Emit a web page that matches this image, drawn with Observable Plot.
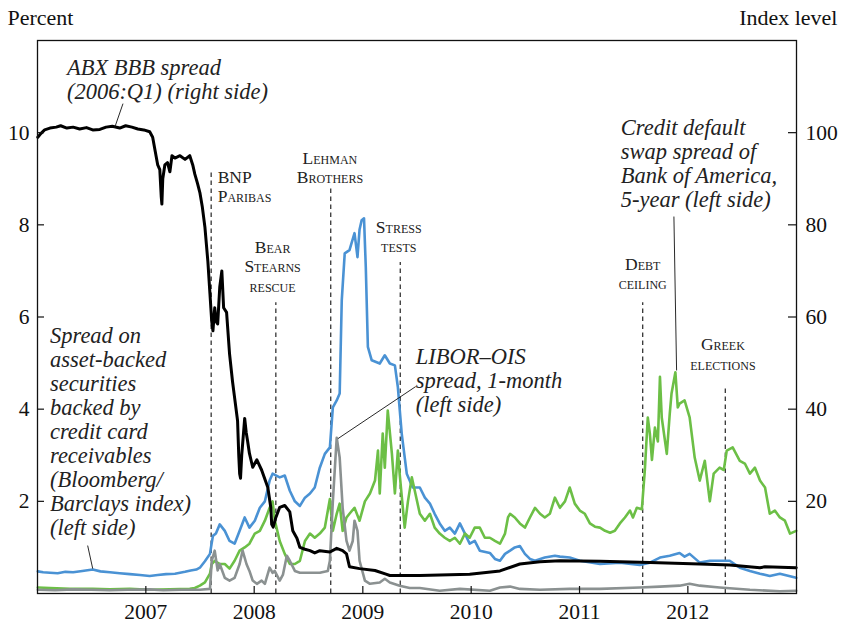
<!DOCTYPE html>
<html>
<head>
<meta charset="utf-8">
<script src="https://cdn.jsdelivr.net/npm/d3@7"></script>
<script src="https://cdn.jsdelivr.net/npm/@observablehq/plot@0.6"></script>
<style>
  html, body { margin: 0; padding: 0; background: #fff; }
  #chart svg { display: block; }
</style>
</head>
<body>
<div id="chart"></div>
<script>
// ---------- Data ----------
// ABX BBB spread (2006:Q1), index level (right side)
const abxDates = ["2006-01-02","2006-01-12","2006-01-25","2006-02-12","2006-03-05","2006-03-20","2006-04-10","2006-05-01","2006-05-23","2006-06-15","2006-07-06","2006-07-30","2006-08-20","2006-09-10","2006-10-05","2006-10-25","2006-11-15","2006-12-05","2006-12-25","2007-01-14","2007-01-24","2007-01-31","2007-02-10","2007-02-17","2007-02-22","2007-02-24","2007-02-27","2007-03-06","2007-03-15","2007-03-23","2007-03-30","2007-04-09","2007-04-26","2007-05-13","2007-05-29","2007-06-08","2007-06-15","2007-06-24","2007-07-02","2007-07-10","2007-07-19","2007-07-29","2007-08-05","2007-08-08","2007-08-11","2007-08-15","2007-08-21","2007-08-26","2007-08-31","2007-09-07","2007-09-14","2007-09-20","2007-09-30","2007-10-10","2007-10-20","2007-10-27","2007-11-06","2007-11-10","2007-11-13","2007-11-16","2007-11-20","2007-11-30","2007-12-05","2007-12-10","2007-12-16","2007-12-27","2008-01-10","2008-01-26","2008-02-16","2008-02-26","2008-02-29","2008-03-05","2008-03-14","2008-03-27","2008-04-13","2008-04-30","2008-05-10","2008-05-24","2008-06-03","2008-06-20","2008-07-07","2008-07-23","2008-08-09","2008-09-12","2008-10-05","2008-10-25","2008-11-07","2008-11-17","2008-12-21","2009-02-11","2009-03-20","2009-04-02","2009-07-12","2009-12-27","2010-04-08","2010-06-14","2010-08-21","2010-10-27","2011-03-11","2011-08-26","2012-02-10","2012-05-21","2012-08-31","2012-09-17","2012-12-31"];
const abxIndex = [99.0,99.8,100.6,101.0,101.2,101.5,101.0,101.2,100.8,101.1,100.6,100.7,101.2,101.4,101.0,101.5,101.2,100.8,100.6,100.2,99.0,96.5,93.0,92.0,86.0,84.5,90.0,93.0,93.5,91.5,95.0,94.5,95.0,94.2,95.0,93.0,91.0,89.0,87.0,84.0,79.5,72.0,65.0,62.0,59.0,57.0,62.0,59.0,58.5,66.5,70.0,62.0,61.0,52.0,46.0,42.5,37.5,30.0,26.0,25.0,30.0,38.0,35.0,33.0,30.4,27.4,29.0,26.8,23.0,18.6,15.0,14.4,16.5,18.7,19.1,17.7,13.6,12.0,10.0,9.6,9.3,8.8,9.3,9.0,9.8,9.3,8.6,5.8,5.4,5.0,4.2,3.9,3.9,4.2,4.9,6.4,6.9,7.1,7.0,6.7,6.4,6.2,5.6,5.8,5.6];

// Spread on ABS backed by credit card receivables, percent (left side)
const absDates = ["2006-01-02","2006-01-20","2006-02-12","2006-03-10","2006-04-05","2006-05-01","2006-06-01","2006-07-06","2006-08-01","2006-09-02","2006-10-05","2006-11-08","2006-12-12","2007-01-14","2007-02-10","2007-03-10","2007-04-09","2007-05-13","2007-06-01","2007-06-20","2007-07-02","2007-07-19","2007-08-05","2007-08-11","2007-08-15","2007-08-25","2007-09-07","2007-09-24","2007-10-10","2007-10-27","2007-11-13","2007-11-30","2007-12-16","2008-01-03","2008-01-20","2008-02-06","2008-02-22","2008-03-03","2008-03-27","2008-04-13","2008-04-30","2008-05-17","2008-06-03","2008-06-20","2008-07-07","2008-07-23","2008-08-09","2008-08-26","2008-09-12","2008-09-22","2008-10-05","2008-10-15","2008-10-22","2008-11-01","2008-11-17","2008-12-04","2008-12-14","2008-12-21","2008-12-28","2009-01-05","2009-01-11","2009-01-18","2009-01-31","2009-02-27","2009-03-16","2009-04-02","2009-04-19","2009-04-29","2009-05-12","2009-05-29","2009-06-18","2009-07-12","2009-07-29","2009-08-15","2009-08-31","2009-09-17","2009-10-04","2009-10-21","2009-11-07","2009-11-24","2009-12-11","2009-12-27","2010-01-13","2010-01-30","2010-03-05","2010-03-22","2010-04-08","2010-04-25","2010-05-12","2010-05-28","2010-06-14","2010-07-01","2010-07-18","2010-08-04","2010-09-06","2010-10-10","2010-10-27","2010-11-29","2011-01-02","2011-03-11","2011-05-17","2011-07-23","2011-08-26","2011-09-29","2011-11-01","2011-12-04","2011-12-21","2012-01-07","2012-02-10","2012-03-15","2012-04-17","2012-05-21","2012-06-24","2012-07-28","2012-08-31","2012-10-03","2012-11-06","2012-12-31"];
const absSpread = [0.48,0.46,0.45,0.44,0.47,0.46,0.49,0.52,0.48,0.46,0.44,0.42,0.40,0.38,0.40,0.42,0.43,0.47,0.50,0.52,0.56,0.70,0.86,1.10,1.25,1.30,1.50,1.36,1.14,1.08,1.36,1.65,1.43,1.58,1.86,2.00,2.45,2.60,2.52,2.56,2.23,2.00,1.90,2.08,2.17,2.30,2.73,3.03,3.17,4.04,4.19,4.34,6.36,7.38,7.45,7.82,7.30,7.90,8.10,8.14,7.08,5.35,5.06,4.99,5.17,4.99,4.95,4.48,3.47,2.60,2.30,2.30,2.08,1.95,1.73,1.52,1.36,1.43,1.30,1.52,1.30,1.08,1.14,0.93,0.88,0.75,0.71,0.86,0.93,1.00,1.03,0.86,0.75,0.71,0.78,0.82,0.80,0.78,0.71,0.64,0.67,0.62,0.67,0.78,0.82,0.88,0.80,0.86,0.67,0.71,0.71,0.71,0.56,0.49,0.43,0.38,0.43,0.34];

// Credit default swap spread of Bank of America, 5-year, percent (left side)
const cdsDates = ["2006-01-02","2006-02-12","2006-04-20","2006-07-06","2006-09-02","2006-11-08","2007-01-14","2007-03-23","2007-05-29","2007-06-15","2007-07-02","2007-07-19","2007-08-05","2007-08-11","2007-08-21","2007-09-07","2007-09-24","2007-10-10","2007-10-27","2007-11-13","2007-11-30","2007-12-16","2008-01-03","2008-01-20","2008-02-06","2008-02-22","2008-03-03","2008-03-10","2008-03-27","2008-04-13","2008-04-30","2008-05-17","2008-06-03","2008-06-20","2008-07-07","2008-07-23","2008-08-09","2008-08-26","2008-09-12","2008-09-22","2008-10-05","2008-10-15","2008-10-25","2008-11-07","2008-11-17","2008-12-04","2008-12-21","2009-01-08","2009-01-25","2009-02-11","2009-02-21","2009-02-27","2009-03-09","2009-03-16","2009-03-26","2009-04-09","2009-04-19","2009-04-29","2009-05-05","2009-05-22","2009-06-02","2009-06-15","2009-06-25","2009-07-12","2009-07-29","2009-08-15","2009-08-31","2009-09-17","2009-10-04","2009-10-21","2009-11-07","2009-11-24","2009-12-11","2009-12-27","2010-01-13","2010-01-30","2010-02-16","2010-03-05","2010-03-22","2010-04-08","2010-04-25","2010-05-05","2010-05-12","2010-05-28","2010-06-14","2010-07-01","2010-07-18","2010-08-04","2010-08-21","2010-09-06","2010-09-23","2010-10-10","2010-10-27","2010-11-13","2010-11-29","2010-12-16","2011-01-02","2011-01-19","2011-02-05","2011-02-22","2011-03-11","2011-03-28","2011-04-14","2011-04-30","2011-05-17","2011-06-03","2011-06-20","2011-06-30","2011-07-13","2011-07-30","2011-08-09","2011-08-19","2011-08-26","2011-09-02","2011-09-12","2011-09-22","2011-09-29","2011-10-05","2011-10-22","2011-11-01","2011-11-07","2011-11-20","2011-11-28","2011-12-04","2011-12-21","2012-01-07","2012-01-24","2012-02-10","2012-02-27","2012-03-15","2012-03-28","2012-04-17","2012-05-01","2012-05-11","2012-05-31","2012-06-24","2012-07-11","2012-07-28","2012-08-14","2012-08-31","2012-09-17","2012-10-03","2012-10-20","2012-11-06","2012-11-23","2012-12-10","2012-12-31"];
const cdsSpread = [0.13,0.12,0.10,0.10,0.09,0.10,0.08,0.09,0.10,0.12,0.17,0.24,0.43,0.64,0.71,0.64,0.64,0.54,0.71,0.93,1.00,1.08,1.30,1.36,1.58,1.86,2.00,1.60,1.14,0.86,0.64,0.64,0.71,1.14,1.30,1.21,1.30,1.43,2.05,1.36,1.73,1.95,1.36,1.65,1.73,1.86,1.58,2.00,2.17,2.45,3.10,2.17,3.47,2.73,3.97,3.03,2.17,3.10,2.60,1.43,2.00,2.52,2.23,1.73,1.58,1.73,1.43,1.30,1.21,1.14,1.21,1.08,1.30,1.21,1.43,1.43,1.21,1.21,1.14,1.08,1.30,1.65,1.73,1.65,1.52,1.43,1.65,1.86,1.73,1.65,1.73,2.08,1.86,2.00,2.30,1.95,1.80,1.73,1.52,1.45,1.43,1.36,1.32,1.36,1.52,1.65,1.80,1.65,1.86,1.83,2.67,3.82,3.47,2.90,3.60,3.30,4.70,3.82,3.03,3.90,4.34,4.80,4.04,4.12,4.19,3.82,2.95,2.45,2.88,2.00,2.60,2.73,2.68,3.10,3.17,2.88,2.82,2.60,2.73,2.45,2.30,1.73,1.80,1.65,1.58,1.30,1.36];

// LIBOR–OIS spread, 1-month, percent (left side)
const liborDates = ["2006-01-02","2006-03-01","2006-05-01","2006-07-01","2006-09-01","2006-11-01","2007-01-14","2007-03-01","2007-05-01","2007-07-02","2007-08-05","2007-08-11","2007-08-21","2007-08-31","2007-09-07","2007-09-24","2007-10-10","2007-10-27","2007-11-13","2007-11-23","2007-12-06","2007-12-16","2007-12-27","2008-01-10","2008-01-26","2008-02-06","2008-02-22","2008-03-03","2008-03-10","2008-03-27","2008-04-07","2008-04-20","2008-04-30","2008-05-17","2008-06-03","2008-07-07","2008-08-09","2008-09-05","2008-09-12","2008-09-22","2008-10-05","2008-10-15","2008-10-25","2008-11-07","2008-11-17","2008-11-28","2008-12-04","2008-12-14","2008-12-21","2009-01-08","2009-01-25","2009-02-27","2009-03-16","2009-04-02","2009-05-05","2009-06-08","2009-07-12","2009-09-17","2009-11-24","2010-03-05","2010-04-08","2010-05-12","2010-06-14","2010-08-21","2010-11-29","2011-03-11","2011-07-23","2011-09-29","2011-12-04","2012-01-07","2012-02-10","2012-04-17","2012-07-28","2012-11-06","2012-12-31"];
const liborSpread = [0.08,0.07,0.09,0.08,0.07,0.08,0.09,0.07,0.08,0.08,0.10,0.71,0.93,0.50,0.64,0.34,0.28,0.34,0.64,0.93,0.64,0.49,0.28,0.21,0.28,0.21,0.56,0.45,0.49,0.28,0.41,0.82,0.71,0.49,0.45,0.45,0.45,0.49,0.71,2.00,3.38,2.95,1.86,1.14,0.93,1.14,1.58,1.36,0.71,0.28,0.21,0.24,0.32,0.24,0.17,0.12,0.12,0.06,0.10,0.06,0.13,0.15,0.10,0.08,0.10,0.10,0.13,0.15,0.17,0.21,0.17,0.13,0.08,0.05,0.06];

// Event markers
const eventNames = [["BNP","Paribas"],["Bear","Stearns","rescue"],["Lehman","Brothers"],["Stress","tests"],["Debt","ceiling"],["Greek","elections"]];
const eventDates = ["2007-08-09","2008-03-14","2008-09-15","2009-05-07","2011-08-02","2012-05-06"];
const eventLineTop = [9.14, 6.31, 8.81, 7.18, 6.31, 4.51];      // percent units
const eventLabelDates = ["2007-08-31","2008-03-03","2008-09-12","2009-05-02","2011-08-02","2012-04-28"];
const eventLabelY = [8.49, 6.55, 8.90, 7.40, 6.60, 4.86];
const eventAnchor = ["start","middle","middle","middle","middle","middle"];

// Series annotations
const noteTexts = [
  "ABX BBB spread\n(2006:Q1) (right side)",
  "Spread on\nasset-backed\nsecurities\nbacked by\ncredit card\nreceivables\n(Bloomberg/\nBarclays index)\n(left side)",
  "LIBOR\u2013OIS\nspread, 1-month\n(left side)",
  "Credit default\nswap spread of\nBank of America,\n5-year (left side)"
];
const noteDates = ["2006-04-10","2006-02-12","2009-06-28","2011-05-20"];
const noteY = [10.74, 1.26, 3.93, 8.38];
const leaderFromDates = ["2006-10-16","2006-06-19","2008-10-09","2011-11-15"];
const leaderFromY = [10.63, 1.04, 3.36, 8.18];
const leaderToDates = ["2006-09-18","2006-07-06","2009-06-28","2011-11-24"];
const leaderToY = [10.11, 0.54, 4.49, 4.84];

// Axes
const yearTicks = ["2007","2008","2009","2010","2011","2012"];
const leftTicks = [2, 4, 6, 8, 10];
const rightTicks = [20, 40, 60, 80, 100];

// ---------- Build tables ----------
const parse = s => new Date(s + (s.length === 4 ? "-01-01" : "") + "T00:00:00Z");
const series = (dates, vals) => dates.map((d, i) => ({date: parse(d), v: vals[i]}));
const abx = series(abxDates, abxIndex);
const abs = series(absDates, absSpread);
const cds = series(cdsDates, cdsSpread);
const libor = series(liborDates, liborSpread);
const events = eventDates.map((d, i) => ({
  date: parse(d), top: eventLineTop[i],
  label: eventNames[i].join("\n"), ldate: parse(eventLabelDates[i]), ly: eventLabelY[i], anchor: eventAnchor[i]
}));
const notes = noteTexts.map((t, i) => ({
  text: t, date: parse(noteDates[i]), y: noteY[i],
  x1: parse(leaderFromDates[i]), y1: leaderFromY[i], x2: parse(leaderToDates[i]), y2: leaderToY[i]
}));
const years = yearTicks.map(parse);

const W = 841, H = 623, ML = 37, MR = 45, MT = 40, MB = 30;
const FW = W - ML - MR, FH = H - MT - MB;
const serif = "'Liberation Serif', 'Times New Roman', Times, serif";
const eventText = anchor => Plot.text(events.filter(d => d.anchor === anchor), {
  x: "ldate", y: "ly", text: "label", textAnchor: anchor, lineAnchor: "bottom",
  fontVariant: "small-caps", fontSize: 17.5, lineHeight: 1.1, fill: "#222"
});

const chart = Plot.plot({
  width: W, height: H,
  marginLeft: ML, marginRight: MR, marginTop: MT, marginBottom: MB,
  style: {fontFamily: serif, fontSize: "21.5px", background: "#fff", color: "#111", overflow: "visible"},
  x: {type: "utc", domain: [parse("2006-01-01"), parse("2013-01-01")], label: null},
  y: {domain: [0, 12], label: null},
  marks: [
    // event dashed lines
    Plot.ruleX(events, {x: "date", y1: 0, y2: "top", stroke: "#111", strokeWidth: 1.1, strokeDasharray: "4.5,3.5"}),
    // series
    Plot.line(abs, {x: "date", y: "v", stroke: "#4a92d4", strokeWidth: 2.6}),
    Plot.line(cds, {x: "date", y: "v", stroke: "#6cbf46", strokeWidth: 2.6}),
    Plot.line(libor, {x: "date", y: "v", stroke: "#8b9191", strokeWidth: 2.6}),
    Plot.line(abx, {x: "date", y: d => d.v / 10, stroke: "#000", strokeWidth: 3}),
    // frame and ticks
    Plot.frame({stroke: "#111", strokeWidth: 1.3}),
    Plot.tickX(years, {x: d => d, insetTop: FH - 7, stroke: "#111", strokeWidth: 1.2}),
    Plot.tickY(leftTicks, {y: d => d, insetRight: FW - 7, stroke: "#111", strokeWidth: 1.2}),
    Plot.tickY(leftTicks, {y: d => d, insetLeft: FW - 8, stroke: "#111", strokeWidth: 1.2}),
    Plot.axisX(years, {tickSize: 0, tickPadding: 10, tickFormat: d3.utcFormat("%Y"), label: null}),
    Plot.axisY(leftTicks, {anchor: "left", tickSize: 0, tickPadding: 8, label: null}),
    Plot.axisY(rightTicks.map(d => d / 10), {anchor: "right", tickSize: 0, tickPadding: 9, tickFormat: (d, i) => rightTicks[i], label: null}),
    // axis titles
    Plot.text(["Percent"], {text: d => d, frameAnchor: "top-left", dx: -30, dy: -16, textAnchor: "start", lineAnchor: "bottom", fontSize: 22, fill: "#111"}),
    Plot.text(["Index level"], {text: d => d, frameAnchor: "top-right", dx: 41, dy: -16, textAnchor: "end", lineAnchor: "bottom", fontSize: 22, fill: "#111"}),
    // event labels
    eventText("start"),
    eventText("middle"),
    // annotations
    Plot.link(notes, {x1: "x1", y1: "y1", x2: "x2", y2: "y2", stroke: "#111", strokeWidth: 0.9}),
    Plot.text(notes, {x: "date", y: "y", text: "text", textAnchor: "start", lineAnchor: "bottom",
      fontStyle: "italic", fontSize: 22.5, lineHeight: 1.07, fill: "#222"})
  ]
});
document.getElementById("chart").appendChild(chart);
</script>
</body>
</html>
